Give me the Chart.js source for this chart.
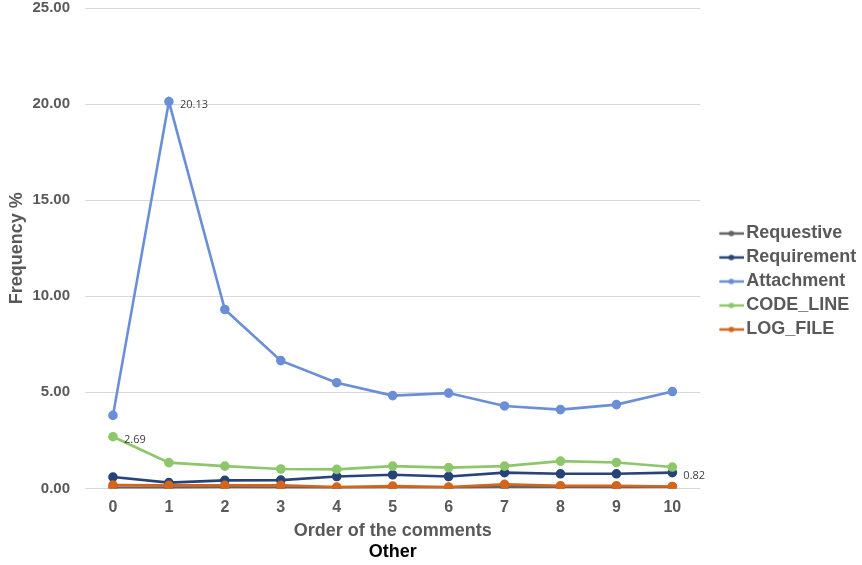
<!DOCTYPE html>
<html>
<head>
<meta charset="utf-8">
<script src="https://cdn.jsdelivr.net/npm/chart.js@4/dist/chart.umd.min.js"></script>
<style>
  html, body { margin: 0; padding: 0; background: #fff; }
  #wrap { width: 862px; height: 565px; position: relative; }
</style>
</head>
<body>
<div id="wrap"><canvas id="chart"></canvas></div>
<script>
// ---- data ----
const orders = ["0", "1", "2", "3", "4", "5", "6", "7", "8", "9", "10"];
const seriesNames = ["Requestive", "Requirement", "Attachment", "CODE_LINE", "LOG_FILE"];
const requestive  = [0.03, 0.04, 0.06, 0.05, 0.04, 0.06, 0.04, 0.08, 0.07, 0.06, 0.08];
const requirement = [0.59, 0.30, 0.42, 0.43, 0.62, 0.71, 0.62, 0.82, 0.76, 0.76, 0.82];
const attachment  = [3.80, 20.13, 9.31, 6.65, 5.50, 4.83, 4.96, 4.29, 4.10, 4.36, 5.04];
const codeLine    = [2.69, 1.34, 1.16, 1.01, 0.99, 1.16, 1.08, 1.16, 1.42, 1.35, 1.11];
const logFile     = [0.17, 0.16, 0.16, 0.16, 0.07, 0.12, 0.07, 0.21, 0.14, 0.14, 0.10];
const seriesColors = ["#636363", "#264478", "#6a8fd6", "#8dc66b", "#d4651a"];
// which points carry a value label: [series index, point index]
const labelled = [[2, 1], [3, 0], [1, 10]];

const allSeries = [requestive, requirement, attachment, codeLine, logFile];
const grey = "#595959";
const font = "Arial, 'Liberation Sans', sans-serif";

// legend marker: short line with a dot in the middle
function legendMark(color) {
  const c = document.createElement("canvas");
  c.width = 26; c.height = 8;
  const g = c.getContext("2d");
  g.strokeStyle = color; g.lineWidth = 2.5;
  g.beginPath(); g.moveTo(0, 4); g.lineTo(26, 4); g.stroke();
  g.fillStyle = color;
  g.beginPath(); g.arc(13, 4, 2.8, 0, Math.PI * 2); g.fill();
  return c;
}

// small value labels next to chosen points
const valueLabels = {
  id: "valueLabels",
  afterDatasetsDraw(chart) {
    const ctx = chart.ctx;
    ctx.save();
    ctx.font = "11px 'Open Sans', sans-serif";
    ctx.fillStyle = "#404040";
    ctx.textAlign = "left";
    ctx.textBaseline = "middle";
    labelled.forEach(([s, i]) => {
      const pt = chart.getDatasetMeta(s).data[i];
      ctx.fillText(allSeries[s][i].toFixed(2), pt.x + 11, pt.y + 3);
    });
    ctx.restore();
  }
};

new Chart(document.getElementById("chart"), {
  type: "line",
  data: {
    labels: orders,
    datasets: seriesNames.map((name, k) => ({
      label: name,
      data: allSeries[k],
      borderColor: seriesColors[k],
      backgroundColor: seriesColors[k],
      borderWidth: 2.6,
      pointRadius: 3.5,
      pointHoverRadius: 3.5,
      tension: 0,
      order: seriesNames.length - k,
    })),
  },
  options: {
    responsive: true,
    maintainAspectRatio: false,
    animation: false,
    layout: { padding: { top: 0, right: 0, left: 6, bottom: 2 } },
    plugins: {
      legend: {
        position: "right",
        labels: {
          color: grey,
          font: { family: font, size: 18, weight: "bold" },
          usePointStyle: true,
          pointStyleWidth: 12,
          padding: 6,
          generateLabels: (chart) => chart.data.datasets.map((ds, i) => ({
            text: ds.label,
            fillStyle: ds.borderColor,
            strokeStyle: ds.borderColor,
            fontColor: grey,
            pointStyle: legendMark(ds.borderColor),
            datasetIndex: i,
            hidden: false,
          })),
        },
      },
      title: {
        display: true,
        position: "bottom",
        fullSize: false,
        text: "Other",
        color: "#000",
        font: { family: font, size: 18, weight: "bold" },
        padding: { top: 0, bottom: 0 },
      },
      tooltip: { enabled: false },
    },
    scales: {
      x: {
        offset: true,
        grid: { display: false, drawTicks: false },
        border: { display: false },
        ticks: {
          color: grey,
          font: { family: font, size: 16, weight: "bold" },
          padding: 10,
        },
        title: {
          display: true,
          text: "Order of the comments",
          color: grey,
          font: { family: font, size: 18, weight: "bold" },
          padding: { top: 3, bottom: 0 },
        },
        afterFit: (s) => { s.height = 53; },
      },
      y: {
        min: 0,
        max: 25,
        grid: { color: "#d9d9d9", lineWidth: 1, drawTicks: false },
        border: { display: false },
        ticks: {
          stepSize: 5,
          color: grey,
          font: { family: font, size: 15, weight: "bold" },
          padding: 15,
          callback: (v) => v.toFixed(2),
        },
        title: {
          display: true,
          text: "Frequency %",
          color: grey,
          font: { family: font, size: 18, weight: "bold" },
          padding: { top: 0, bottom: 4 },
        },
        afterFit: (s) => { s.width = 79; s.paddingTop = 8; s.paddingBottom = 0; },
      },
      // empty right-hand axis, only keeps a gap before the legend
      gap: {
        axis: "y",
        position: "right",
        display: true,
        grid: { display: false, drawTicks: false },
        border: { display: false },
        ticks: { display: false },
        afterFit: (s) => { s.width = 19; s.paddingTop = 0; s.paddingBottom = 0; },
      },
    },
  },
  plugins: [valueLabels],
});
</script>
</body>
</html>
